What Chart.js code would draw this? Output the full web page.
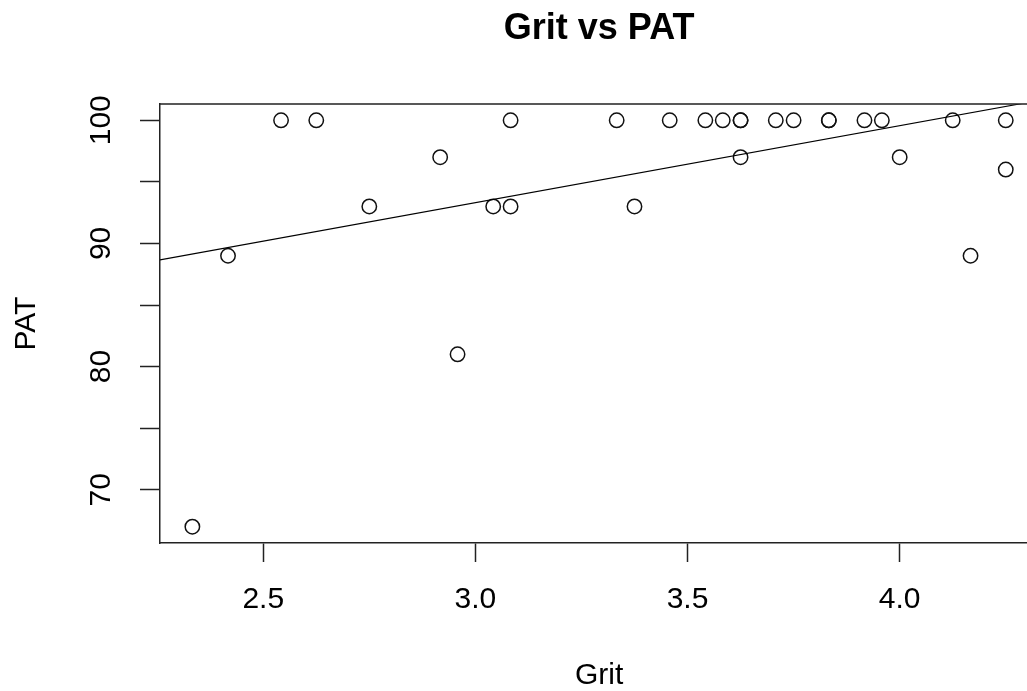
<!DOCTYPE html>
<html>
<head>
<meta charset="utf-8">
<script src="https://cdn.jsdelivr.net/npm/chart.js@4/dist/chart.umd.min.js"></script>
<style>
  html, body { margin: 0; padding: 0; background: #ffffff; overflow: hidden; }
  #wrap { width: 1027px; height: 691px; overflow: hidden; position: relative; }
  #c { display: block; }
</style>
</head>
<body>
<div id="wrap"><canvas id="c" width="1047" height="691"></canvas></div>
<script>
// ---- data ----
const chartTitle = "Grit vs PAT";
const xTitle = "Grit";
const yTitle = "PAT";
const grit = [2.333, 2.417, 2.542, 2.625, 2.750, 2.917, 2.958, 3.042, 3.083, 3.083,
              3.333, 3.375, 3.458, 3.542, 3.583, 3.625, 3.625, 3.625, 3.708, 3.750,
              3.833, 3.833, 3.917, 3.958, 4.000, 4.125, 4.167, 4.250, 4.250];
const pat  = [67, 89, 100, 100, 93, 97, 81, 93, 100, 93,
              100, 93, 100, 100, 100, 100, 100, 97, 100, 100,
              100, 100, 100, 100, 97, 100, 89, 100, 96];
const fitIntercept = 74.56;
const fitSlope = 6.25;
const xTicks = [2.5, 3.0, 3.5, 4.0];
const xTickLabels = ["2.5", "3.0", "3.5", "4.0"];
const yTicks = [70, 75, 80, 85, 90, 95, 100];
const yTickLabels = ["70", "", "80", "", "90", "", "100"];
const xRange = [2.2567, 4.3267];
const yRange = [65.68, 101.32];

const FONT = "'Liberation Sans', Arial, sans-serif";
const points = grit.map((g, i) => ({ x: g, y: pat[i] }));
const fitLine = xRange.map(x => ({ x: x, y: fitIntercept + fitSlope * x }));

const boxPlugin = {
  id: 'boxTop',
  afterDraw(chart) {
    const a = chart.chartArea, ctx = chart.ctx;
    ctx.save();
    ctx.strokeStyle = '#222';
    ctx.lineWidth = 1.5;
    ctx.beginPath();
    ctx.moveTo(a.left, a.top);
    ctx.lineTo(a.right, a.top);
    ctx.lineTo(a.right, a.bottom);
    ctx.stroke();
    ctx.restore();
  }
};

new Chart(document.getElementById('c'), {
  data: {
    datasets: [
      {
        type: 'line',
        data: fitLine,
        borderColor: '#000',
        borderWidth: 1.1,
        pointRadius: 0,
        fill: false,
        order: 0
      },
      {
        type: 'scatter',
        data: points,
        pointStyle: 'circle',
        pointRadius: 7.2,
        pointBorderWidth: 1.5,
        borderColor: '#111',
        backgroundColor: 'rgba(0,0,0,0)',
        pointBackgroundColor: 'rgba(0,0,0,0)',
        order: 1
      }
    ]
  },
  options: {
    responsive: false,
    animation: false,
    layout: { padding: { left: 0, top: 0, right: 0, bottom: 0 } },
    plugins: {
      legend: { display: false },
      tooltip: { enabled: false },
      title: {
        display: true,
        text: chartTitle,
        fullSize: false,
        color: '#000',
        font: { family: FONT, size: 36, weight: 'bold', lineHeight: 1.2 },
        padding: { top: 7, bottom: 53.8 }
      }
    },
    scales: {
      x: {
        type: 'linear',
        position: 'bottom',
        min: xRange[0],
        max: xRange[1],
        afterFit(s) { s.height = 148; },
        afterBuildTicks(s) { s.ticks = xTicks.map(v => ({ value: v })); },
        grid: { display: true, drawOnChartArea: false, drawTicks: true, tickLength: 19, tickColor: '#222', tickWidth: 1.5 },
        border: { display: true, color: '#222', width: 1.5 },
        ticks: {
          color: '#000',
          font: { family: FONT, size: 30 },
          padding: 20,
          maxRotation: 0, minRotation: 0,
          callback(v) { const i = xTicks.indexOf(v); return i >= 0 ? xTickLabels[i] : ''; }
        },
        title: {
          display: true, text: xTitle, color: '#000',
          font: { family: FONT, size: 30, lineHeight: 1.0 },
          padding: { top: 0, bottom: 0 }
        }
      },
      y: {
        type: 'linear',
        position: 'left',
        min: yRange[0],
        max: yRange[1],
        afterFit(s) { s.width = 160; },
        afterBuildTicks(s) { s.ticks = yTicks.map(v => ({ value: v })); },
        grid: { display: true, drawOnChartArea: false, drawTicks: true, tickLength: 20, tickColor: '#222', tickWidth: 1.5 },
        border: { display: true, color: '#222', width: 1.5 },
        ticks: {
          color: '#000',
          font: { family: FONT, size: 30 },
          padding: 13,
          crossAlign: 'center',
          minRotation: 90, maxRotation: 90,
          callback(v) { const i = yTicks.indexOf(v); return i >= 0 ? yTickLabels[i] : ''; }
        },
        title: {
          display: true, text: yTitle, color: '#000',
          font: { family: FONT, size: 30, lineHeight: 1.2 },
          padding: { top: 9, bottom: 0 }
        }
      }
    }
  },
  plugins: [boxPlugin]
});
</script>
</body>
</html>
